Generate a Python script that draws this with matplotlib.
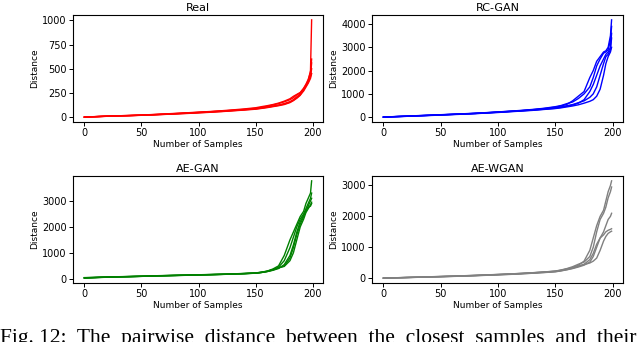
import matplotlib
matplotlib.use("Agg")
import matplotlib.pyplot as plt

xs = [0, 10, 20, 30, 40, 50, 60, 70, 80, 90, 100, 110, 120, 130, 140, 150,
      155, 160, 165, 170, 175, 180, 183, 186, 189, 192, 194, 196, 198, 199]

real_curves = [
    [0, 5, 10, 13, 16, 20, 25, 30, 36, 42, 48, 55, 62, 70, 78, 88, 95, 105, 115, 125, 140, 160, 180, 210, 240, 290, 330, 380, 480, 1005],
    [0, 6, 11, 14, 18, 22, 27, 33, 39, 45, 52, 58, 66, 75, 85, 97, 108, 118, 130, 145, 165, 190, 215, 235, 255, 300, 340, 390, 460, 600],
    [0, 4, 9, 12, 15, 19, 23, 28, 33, 38, 44, 50, 57, 65, 73, 82, 90, 98, 108, 118, 130, 150, 170, 195, 225, 280, 320, 360, 430, 560],
    [0, 5, 10, 14, 17, 21, 26, 31, 37, 43, 49, 56, 63, 71, 80, 92, 100, 112, 125, 140, 158, 180, 200, 230, 250, 290, 330, 370, 420, 500],
    [0, 5, 9, 12, 16, 20, 24, 29, 34, 40, 46, 52, 59, 67, 76, 85, 93, 102, 112, 122, 135, 155, 175, 200, 230, 270, 310, 350, 400, 450],
]
rcgan_curves = [
    [0, 20, 40, 60, 80, 100, 120, 140, 160, 190, 220, 250, 280, 320, 370, 430, 480, 550, 700, 900, 1100, 1700, 2000, 2400, 2600, 2800, 2850, 3000, 3500, 4180],
    [0, 25, 45, 65, 85, 105, 125, 145, 170, 195, 225, 255, 290, 330, 380, 450, 500, 580, 650, 800, 1000, 1300, 1700, 2200, 2500, 2750, 2800, 2900, 3300, 3900],
    [0, 20, 35, 55, 75, 95, 115, 135, 155, 180, 210, 240, 270, 300, 340, 380, 420, 470, 520, 600, 750, 1100, 1400, 1800, 2200, 2500, 2700, 2800, 3000, 3600],
    [0, 22, 40, 60, 78, 98, 118, 138, 160, 185, 215, 245, 275, 310, 350, 400, 440, 490, 540, 620, 700, 850, 1000, 1300, 1800, 2300, 2600, 2700, 2900, 3400],
    [0, 18, 35, 52, 70, 88, 108, 128, 150, 175, 200, 230, 260, 290, 330, 370, 400, 440, 480, 530, 600, 680, 750, 900, 1200, 1800, 2300, 2600, 2800, 3000],
]
aegan_curves = [
    [50, 60, 75, 85, 95, 105, 120, 130, 140, 150, 160, 170, 180, 195, 210, 230, 260, 300, 380, 500, 900, 1500, 1800, 2100, 2400, 2600, 2900, 3100, 3300, 3770],
    [40, 55, 70, 80, 90, 100, 115, 125, 135, 145, 155, 165, 175, 190, 205, 225, 250, 290, 350, 450, 700, 1200, 1600, 2000, 2300, 2500, 2700, 2900, 3100, 3300],
    [30, 50, 65, 75, 85, 98, 110, 120, 130, 140, 150, 160, 172, 185, 200, 220, 245, 280, 330, 400, 550, 900, 1300, 1800, 2200, 2450, 2600, 2800, 3000, 3100],
    [45, 58, 72, 82, 92, 102, 116, 126, 136, 146, 157, 167, 178, 192, 207, 227, 255, 295, 360, 430, 480, 700, 1000, 1500, 2000, 2300, 2550, 2700, 2850, 2950],
    [35, 52, 68, 78, 88, 100, 112, 122, 132, 142, 152, 162, 174, 188, 203, 222, 248, 285, 340, 420, 500, 800, 1200, 1700, 2100, 2400, 2650, 2750, 2800, 2900],
]
aewgan_curves = [
    [0, 10, 20, 30, 40, 50, 60, 72, 85, 100, 115, 130, 150, 170, 195, 220, 250, 290, 340, 420, 550, 900, 1300, 1700, 2000, 2200, 2500, 2800, 3000, 3150],
    [0, 12, 22, 33, 44, 55, 66, 78, 92, 106, 120, 136, 154, 176, 200, 230, 265, 310, 370, 450, 520, 700, 1000, 1500, 1900, 2100, 2300, 2600, 2800, 2950],
    [0, 8, 18, 27, 36, 45, 55, 66, 78, 92, 106, 120, 138, 158, 180, 205, 235, 270, 310, 360, 420, 520, 700, 1000, 1300, 1500, 1700, 1900, 2000, 2100],
    [0, 9, 19, 28, 38, 48, 58, 70, 82, 96, 110, 125, 142, 162, 185, 212, 240, 275, 320, 380, 450, 600, 800, 1100, 1300, 1400, 1500, 1550, 1580, 1600],
    [0, 11, 21, 31, 42, 52, 63, 75, 88, 102, 118, 134, 152, 173, 197, 225, 258, 300, 340, 390, 440, 490, 550, 650, 900, 1200, 1350, 1450, 1500, 1520],
]

titles = ["Real", "RC-GAN", "AE-GAN", "AE-WGAN"]
colors = ["red", "blue", "green", "gray"]
all_curves = [real_curves, rcgan_curves, aegan_curves, aewgan_curves]

W, H = 640, 342
fig = plt.figure(figsize=(6.4, 3.42), dpi=100)

boxes = [(73, 15, 323, 122), (372, 15, 623, 122),
         (73, 176, 323, 283), (372, 176, 623, 283)]

for (x0, y0, x1, y1), title, color, curves in zip(boxes, titles, colors, all_curves):
    ax = fig.add_axes([x0 / W, 1 - y1 / H, (x1 - x0) / W, (y1 - y0) / H])
    for c in curves:
        ax.plot(xs, c, color=color, linewidth=1.0)
    ax.set_title(title, fontsize=8, pad=3)
    ax.set_xlabel("Number of Samples", fontsize=6.5, labelpad=1)
    ax.set_ylabel("Distance", fontsize=6.5, labelpad=2)
    ax.set_xticks([0, 50, 100, 150, 200])
    ax.tick_params(labelsize=7, length=3, width=0.7, pad=1.5)
    for s in ax.spines.values():
        s.set_linewidth(0.8)

fig.text(0.0, 1 - 329 / H,
         "Fig. 12:  The  pairwise  distance  between  the  closest  samples  and  their",
         family=["Liberation Serif", "DejaVu Serif"], fontsize=15.5, va="top", ha="left")

fig.savefig("out.png", dpi=100)
